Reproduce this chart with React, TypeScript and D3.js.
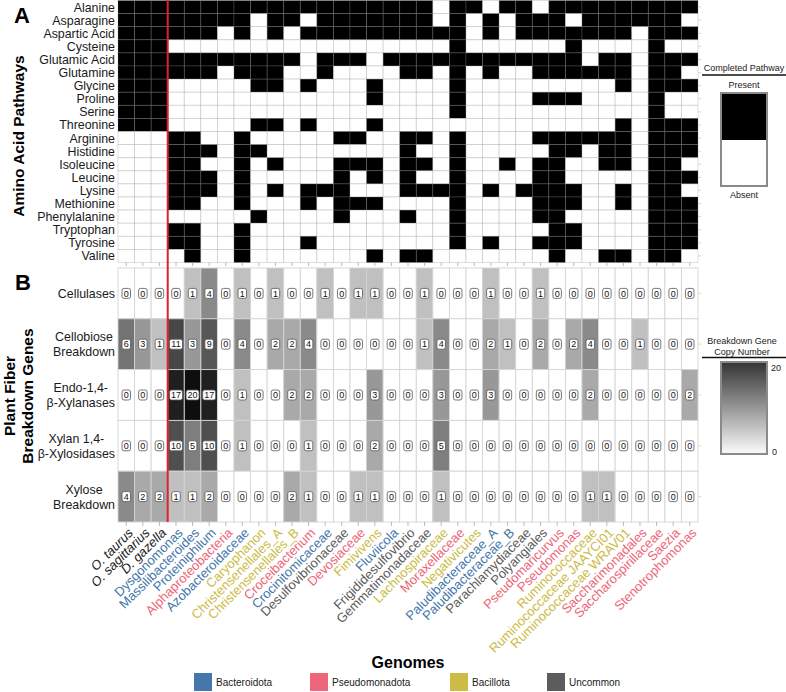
import React from 'react';
import * as d3 from 'd3';

const genomes = [
  'O. taurus', 'O. sagittarius', 'D. gazella', 'Dysgonomonas', 'Massilibacteroides', 'Proteiniphilum',
  'Alphaproteobacteria', 'Azobacteroidaceae', 'Caryophanon', 'Christensenellales_A', 'Christensenellales_B',
  'Croceibacterium', 'Crocinitomicaceae', 'Desulfovibrionaceae', 'Devosiaceae', 'Fimivivens', 'Fluviicola',
  'Frigididesulfovibrio', 'Gemmatimonadaceae', 'Lachnospiraceae', 'Moraxellaceae', 'Negativicutes',
  'Paludibacteraceae_A', 'Paludibacteraceae_B', 'Parachlamydiaceae', 'Polyangiales', 'Pseudomaricurvus',
  'Pseudomonas', 'Ruminococcaceae', 'Ruminococcaceae JAAYCI01', 'Ruminococcaceae WRAV01', 'Saccharimonadales',
  'Saccharospirillaceae', 'Saezia', 'Stenotrophomonas'
];

const genomeGroups = [
  'Beetle', 'Beetle', 'Beetle', 'Bacteroidota', 'Bacteroidota', 'Bacteroidota',
  'Pseudomonadota', 'Bacteroidota', 'Bacillota', 'Bacillota', 'Bacillota',
  'Pseudomonadota', 'Bacteroidota', 'Uncommon', 'Pseudomonadota', 'Bacillota', 'Bacteroidota',
  'Uncommon', 'Uncommon', 'Bacillota', 'Pseudomonadota', 'Bacillota',
  'Bacteroidota', 'Bacteroidota', 'Uncommon', 'Uncommon', 'Pseudomonadota',
  'Pseudomonadota', 'Bacillota', 'Bacillota', 'Bacillota', 'Pseudomonadota',
  'Pseudomonadota', 'Pseudomonadota', 'Pseudomonadota'
];

const legendGroups = ['Bacteroidota', 'Pseudomonadota', 'Bacillota', 'Uncommon'];
const groupColors = ['#4477AA', '#EE6677', '#CCBB44', '#5c5c5c'];

const aminoAcids = [
  'Alanine', 'Asparagine', 'Aspartic Acid', 'Cysteine', 'Glutamic Acid', 'Glutamine', 'Glycine',
  'Proline', 'Serine', 'Threonine', 'Arginine', 'Histidine', 'Isoleucine', 'Leucine', 'Lysine',
  'Methionine', 'Phenylalanine', 'Tryptophan', 'Tyrosine', 'Valine'
];

// 1 = completed pathway present, one character per genome
const pathwayPresence = [
  '11111111111111111110110110111111111',
  '11111111011011111110101011101111110',
  '11111101010111111111101011111110111',
  '11100000000000000000100000010000100',
  '11111111111011101111111111110110111',
  '11111101110010000110101001111110110',
  '11100000110100010000100000000010111',
  '11100000000000010000100001110000100',
  '11100000000000000000100000000000100',
  '11100000110100010000000000000010111',
  '00011001000001100110100001111110111',
  '00011101100000000100100000110110111',
  '00011001010001110110100101100110110',
  '00011101000001010100100001100000111',
  '00011101010111000111101011110010110',
  '00011001000101110000100001110010111',
  '00000000100001000100100001100000111',
  '00011001000000000000100000110000111',
  '00011001000100000000101001110000111',
  '00001001000000010110000000100110110'
];

const fiberGenes = [
  'Cellulases', 'Cellobiose\nBreakdown', 'Endo-1,4-\nβ-Xylanases', 'Xylan 1,4-\nβ-Xylosidases', 'Xylose\nBreakdown'
];

const cellulases = [0,0,0,0,1,4,0,1,0,1,0,0,1,0,1,1,0,0,1,0,0,0,1,0,0,1,0,0,0,0,0,0,0,0,0];
const cellobiose = [6,3,1,11,3,9,0,4,0,2,2,4,0,0,0,0,0,0,1,4,0,0,2,1,0,2,0,2,4,0,0,1,0,0,0];
const endoXylanases = [0,0,0,17,20,17,0,1,0,0,2,2,0,0,0,3,0,0,0,3,0,0,3,0,0,0,0,0,2,0,0,0,0,0,2];
const xylosidases = [0,0,0,10,5,10,0,1,0,0,0,1,0,0,0,2,0,0,0,5,0,0,0,0,0,0,0,0,0,0,0,0,0,0,0];
const xyloseBreakdown = [4,2,2,1,1,2,0,0,0,0,2,1,0,0,1,1,0,0,0,1,0,0,0,0,0,0,0,0,1,1,0,0,0,0,0];
const fiberValues = [cellulases, cellobiose, endoXylanases, xylosidases, xyloseBreakdown];

const copyDomain = [0, 20];

const FONT = 'Liberation Sans, Arial, Helvetica, sans-serif';

function measure(txt: string, font: string): number {
  const c = document.createElement('canvas').getContext('2d');
  if (!c) return txt.length * 6.5;
  c.font = font;
  return c.measureText(txt).width;
}

export default function App() {
  const W = 786, H = 692;
  const x = d3.scaleBand<string>().domain(genomes).range([118, 698]).padding(0);
  const yA = d3.scaleBand<string>().domain(aminoAcids).range([0.5, 262.5]).padding(0);
  const yB = d3.scaleBand<string>().domain(fiberGenes).range([268, 522]).padding(0);
  const col = d3.scalePow().exponent(0.45).domain(copyDomain).range([0, 1]);
  const grey = (v: number) => d3.interpolateRgb('#ffffff', '#0e0e0e')(col(v));
  const colorOf = d3.scaleOrdinal<string, string>().domain(legendGroups).range(groupColors);
  const labelColor = (g: string) => (g === 'Beetle' ? '#222222' : colorOf(g));
  const bw = x.bandwidth();

  const labFont = `12.4px ${FONT}`;

  return (
    <svg width={W} height={H} style={{ position: 'absolute', left: 0, top: 0, background: '#fff' }}
      fontFamily={FONT}>
      <defs>
        <linearGradient id="copyGrad" x1="0" y1="1" x2="0" y2="0">
          <stop offset="0%" stopColor="#fbfbfb" />
          <stop offset="100%" stopColor="#333333" />
        </linearGradient>
      </defs>

      {/* Panel A cells */}
      {aminoAcids.map((aa, r) => (
        <g key={aa}>
          {genomes.map((g, c) => (
            <rect key={g} x={x(g)} y={yA(aa)} width={bw} height={yA.bandwidth()}
              fill={pathwayPresence[r][c] === '1' ? '#000' : '#fff'}
              stroke="rgba(140,140,140,0.35)" strokeWidth={0.8} />
          ))}
          <text x={115} y={(yA(aa) as number) + yA.bandwidth() / 2} dy="0.36em" textAnchor="end"
            fontSize={12.4} fill="#1a1a1a">{aa}</text>
          <line x1={698} x2={701} y1={(yA(aa) as number) + yA.bandwidth() / 2}
            y2={(yA(aa) as number) + yA.bandwidth() / 2} stroke="#ccc" strokeWidth={0.8} />
        </g>
      ))}
      {genomes.map((g) => (
        <line key={'ta' + g} x1={(x(g) as number) + bw / 2} x2={(x(g) as number) + bw / 2} y1={262.5} y2={266}
          stroke="#aaa" strokeWidth={0.8} />
      ))}

      {/* Panel B cells */}
      {fiberGenes.map((fg, r) => {
        const yc = (yB(fg) as number) + yB.bandwidth() / 2;
        const lines = fg.split('\n');
        const wmax = Math.max(...lines.map((l) => measure(l, labFont)));
        const cx = 115 - wmax / 2;
        return (
          <g key={fg}>
            {genomes.map((g, c) => (
              <rect key={g} x={x(g)} y={yB(fg)} width={bw} height={yB.bandwidth()}
                fill={grey(fiberValues[r][c])} stroke="#d4d4d4" strokeWidth={0.9} />
            ))}
            <text x={cx} y={yc} textAnchor="middle" fontSize={12.4} fill="#1a1a1a">
              {lines.map((l, i) => (
                <tspan key={i} x={cx} y={yc + (i - (lines.length - 1) / 2) * 15} dy="0.36em">{l}</tspan>
              ))}
            </text>
            <line x1={698} x2={701} y1={yc} y2={yc} stroke="#ccc" strokeWidth={0.8} />
          </g>
        );
      })}
      {fiberGenes.map((fg, r) => {
        const yc = (yB(fg) as number) + yB.bandwidth() / 2;
        return genomes.map((g, c) => {
          const v = fiberValues[r][c];
          const s = String(v);
          const w = s.length > 1 ? 13 : 8.5;
          const cx = (x(g) as number) + bw / 2;
          return (
            <g key={fg + g}>
              <rect x={cx - w / 2} y={yc - 5} width={w} height={10} rx={2} fill="#fff"
                stroke="#555" strokeWidth={0.8} />
              <text x={cx} y={yc} dy="0.35em" textAnchor="middle" fontSize={9} fill="#111">{s}</text>
            </g>
          );
        });
      })}
      {genomes.map((g) => (
        <line key={'tb' + g} x1={(x(g) as number) + bw / 2} x2={(x(g) as number) + bw / 2} y1={522} y2={526}
          stroke="#aaa" strokeWidth={0.8} />
      ))}

      {/* red divider */}
      <line x1={x(genomes[3])} x2={x(genomes[3])} y1={0} y2={522} stroke="#e3202a" strokeWidth={2} />

      {/* x labels */}
      {genomes.map((g, i) => (
        <text key={'xl' + g}
          transform={`translate(${(x(g) as number) + bw / 2 + 1},${527}) rotate(-45)`}
          textAnchor="end" dy="0.72em" fontSize={13}
          fontStyle={genomeGroups[i] === 'Beetle' ? 'italic' : 'normal'}
          fill={labelColor(genomeGroups[i])}>{g}</text>
      ))}

      {/* panel letters and titles */}
      <text x={14} y={23} fontSize={22} fontWeight="bold" fill="#000">A</text>
      <text x={15} y={290} fontSize={22} fontWeight="bold" fill="#000">B</text>
      <text transform="translate(24,136) rotate(-90)" textAnchor="middle" fontSize={15.5} fontWeight="bold"
        fill="#000">Amino Acid Pathways</text>
      <text transform="translate(15,396) rotate(-90)" textAnchor="middle" fontSize={15.5} fontWeight="bold"
        fill="#000">Plant Fiber</text>
      <text transform="translate(33,396) rotate(-90)" textAnchor="middle" fontSize={15.5} fontWeight="bold"
        fill="#000">Breakdown Genes</text>

      {/* Legend A */}
      <text x={744} y={71} textAnchor="middle" fontSize={9} fill="#1a1a1a">Completed Pathway</text>
      <line x1={702} x2={786} y1={75} y2={75} stroke="#111" strokeWidth={1.5} />
      <text x={744} y={88} textAnchor="middle" fontSize={9} fill="#1a1a1a">Present</text>
      <rect x={721} y={93} width={46} height={47} fill="#000" />
      <rect x={721} y={140} width={46} height={46} fill="#fff" />
      <rect x={721} y={93} width={46} height={93} fill="none" stroke="#8a8a8a" strokeWidth={2} />
      <text x={744} y={198} textAnchor="middle" fontSize={9} fill="#1a1a1a">Absent</text>

      {/* Legend B */}
      <text x={742} y={344} textAnchor="middle" fontSize={9} fill="#1a1a1a">Breakdown Gene</text>
      <text x={742} y={355} textAnchor="middle" fontSize={9} fill="#1a1a1a">Copy Number</text>
      <line x1={702} x2={786} y1={357.5} y2={357.5} stroke="#111" strokeWidth={1.5} />
      <rect x={721} y={362} width={46} height={92} fill="url(#copyGrad)" stroke="#8a8a8a" strokeWidth={2} />
      <text x={771} y={371} fontSize={9} fill="#1a1a1a">{copyDomain[1]}</text>
      <text x={772} y={455} fontSize={9} fill="#1a1a1a">{copyDomain[0]}</text>

      {/* Genome legend */}
      <text x={408} y={668} textAnchor="middle" fontSize={16} fontWeight="bold" fill="#000">Genomes</text>
      {legendGroups.map((g, i) => {
        const kx = [194, 310, 450, 547][i];
        return (
          <g key={g}>
            <rect x={kx} y={673} width={18} height={18} fill={colorOf(g)} />
            <text x={kx + 22} y={686} fontSize={10} fill="#1a1a1a">{g}</text>
          </g>
        );
      })}
    </svg>
  );
}
